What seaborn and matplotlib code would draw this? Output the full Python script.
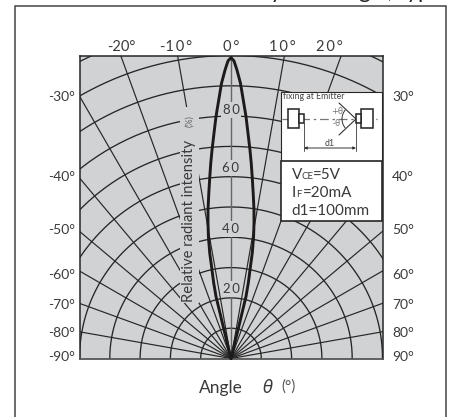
import numpy as np
import pandas as pd
import matplotlib
matplotlib.use('Agg')
import matplotlib.pyplot as plt
from matplotlib.patches import Rectangle, Arc
import seaborn as sb

# Values
half_theta = [0.58, 1.19, 1.97, 2.72, 3.55, 4.31, 5.2, 5.9, 6.65, 7.64, 8.8, 9.63,
              10.5, 11.4, 12.1, 12.9, 13.6, 13.6, 13.7, 13.7, 14]
half_intensity = [98.2, 95.2, 90.9, 85.4, 80, 74.6, 69.1, 64.9, 60.4, 55.1, 49.6, 45.4,
                  40.9, 35.5, 29.9, 25.6, 21, 16.5, 12, 6.3, 0]
theta_deg = [-a for a in half_theta[::-1]] + [0] + half_theta
intensity = half_intensity[::-1] + [99.3] + half_intensity
radii = [10, 20, 30, 40, 50, 60, 70, 80, 90, 100, 110]
spokes = [-80, -70, -60, -50, -40, -30, -20, -10, 10, 20, 30, 40, 50, 60, 70, 80]
side_angles = [30, 40, 50, 60, 70, 80, 90]
side_label_y = [97, 177, 230, 275, 305, 333, 357]
top_labels = ['-20°', '-1\u20090\u2009°', '0\u2009°', '1\u20090\u2009°', '2\u20090\u2009°']
top_label_x = [121, 176, 231, 282, 329]
percent_labels = ['8\u20090', '6\u20090', '4\u20090', '2\u20090']
percent_label_y = [110, 168, 229, 289]

W, H = 449, 417
CX, CY, SCALE = 231, 358.5, 3.03
GRAY = '#d1d2d4'
INK = '#262626'
TEXT = '#3a3a3a'


def dx(x):
    return (x - CX) / SCALE


def dy(y):
    return (CY - y) / SCALE


sb.set_theme(style="white")
plt.rcParams['font.family'] = ['Lato', 'DejaVu Sans']

fig = plt.figure(figsize=(W / 100, H / 100), dpi=100)
ax = fig.add_axes([79.5 / W, (H - CY) / H, 303 / W, 303 / H])
ax.set_xlim(-50, 50)
ax.set_ylim(0, 100)
ax.set_facecolor(GRAY)
ax.set_xticks([])
ax.set_yticks([])
for s in ax.spines.values():
    s.set_color(INK)
    s.set_linewidth(1.1)
ax.spines['bottom'].set_color('#555555')
ax.spines['bottom'].set_linewidth(1.3)

# Polar grid
t = np.radians(np.linspace(-90, 90, 361))
for r in radii:
    ax.plot(r * np.sin(t), r * np.cos(t), color=INK, lw=0.95, zorder=2)
for a in spokes:
    ax.plot([0, 130 * np.sin(np.radians(a))], [0, 130 * np.cos(np.radians(a))], color=INK, lw=0.85, zorder=2)
ax.plot([0, 0], [0, 100], color='#666666', lw=1.0, zorder=2)

# Gap in the grid behind the axis title
ax.add_patch(Rectangle((dx(180), dy(303)), 19 / SCALE, 196 / SCALE, fc=GRAY, ec='none', zorder=3))

# Radiation curve
curve = pd.DataFrame({'theta': theta_deg, 'intensity': intensity})
curve['x'] = curve['intensity'] * np.sin(np.radians(curve['theta']))
curve['y'] = curve['intensity'] * np.cos(np.radians(curve['theta']))
sb.lineplot(data=curve, x='x', y='y', sort=False, estimator=None, color='#1c1a1a', lw=2.1, ax=ax, zorder=4, clip_on=False)
ax.set_xlabel('')
ax.set_ylabel('')

# Angle labels
for lab, x in zip(top_labels, top_label_x):
    ax.text(dx(x), dy(47.5), lab, ha='center', va='center', fontsize=10.5, color=TEXT, clip_on=False)
for a, y in zip(side_angles, side_label_y):
    ax.text(dx(75), dy(y), f'-{a}°', ha='right', va='center', fontsize=10, color=TEXT)
    ax.text(dx(392), dy(y), f'{a}°', ha='left', va='center', fontsize=10, color=TEXT)
for lab, y in zip(percent_labels, percent_label_y):
    ax.text(0, dy(y), lab, ha='center', va='center', fontsize=9.5, color=TEXT, zorder=5,
            bbox=dict(fc=GRAY, ec='none', pad=1.2))

# Axis titles
ax.text(dx(189), dy(302), 'Relative radiant intensity', rotation=90, ha='center', va='bottom',
        fontsize=10.6, color=TEXT, zorder=5)
ax.text(dx(190), dy(121), '(%)', rotation=90, ha='center', va='center', fontsize=6.5, color='#666666', zorder=5)
ax.text(dx(199), dy(388), 'Angle', ha='left', va='center', fontsize=12.5, color=TEXT, clip_on=False)
ax.text(dx(263), dy(388), 'θ', ha='left', va='center', fontsize=12, style='italic', color=TEXT,
        family='DejaVu Sans', clip_on=False)
ax.text(dx(281), dy(387), '(°)', ha='left', va='center', fontsize=11, color='#555555', clip_on=False)

# Measuring setup inset
ax.add_patch(Rectangle((dx(280.7), dy(161)), 101.6 / SCALE, 69.3 / SCALE, fc='white', ec=INK, lw=0.8, zorder=6))
ax.add_patch(Rectangle((dx(280.7), dy(221.5)), 101.6 / SCALE, 60.5 / SCALE, fc='white', ec=INK, lw=1.2, zorder=6))
for x0, x1, y0, y1 in [(287.7, 299, 109, 127.7), (299, 304, 113.7, 123), (361, 372.7, 109, 127.7), (356, 361, 113.7, 123)]:
    ax.add_patch(Rectangle((dx(x0), dy(y1)), (x1 - x0) / SCALE, (y1 - y0) / SCALE, fc='white', ec='#222222', lw=1.1, zorder=8))
ax.plot([dx(282), dx(377)], [dy(119), dy(119)], color='#777777', lw=0.9, ls=(0, (7, 3, 2, 3)), zorder=7)
ax.plot([dx(339), dx(356), dx(339)], [dy(103), dy(119), dy(135)], color='#333333', lw=0.8, zorder=7)
ax.add_patch(Arc((dx(356), dy(119)), 28 / SCALE, 28 / SCALE, theta1=140, theta2=220, color='#333333', lw=0.7, zorder=7))
ax.plot([dx(304), dx(304)], [dy(123), dy(151)], color='#555555', lw=0.7, zorder=7)
ax.plot([dx(356), dx(356)], [dy(123), dy(151)], color='#555555', lw=0.7, zorder=7)
ax.annotate('', xy=(dx(304), dy(148)), xytext=(dx(356), dy(148)), zorder=7,
            arrowprops=dict(arrowstyle='<|-|>', color='#333333', lw=0.7, mutation_scale=4, shrinkA=0, shrinkB=0))
ax.text(dx(283), dy(96.5), 'fixing at Emitter', ha='left', va='center', fontsize=6.3, color='#444444', zorder=8)
ax.text(dx(330), dy(143), 'd1', ha='center', va='center', fontsize=6.3, color='#444444', zorder=8)
ax.text(dx(337), dy(112), '+θ', ha='center', va='center', fontsize=6, color='#777777', zorder=8, family='DejaVu Sans')
ax.text(dx(337), dy(124), '-θ', ha='center', va='center', fontsize=6, color='#777777', zorder=8, family='DejaVu Sans')

# Test conditions
ax.text(dx(291.5), dy(179), 'V', ha='left', va='baseline', fontsize=11, color=TEXT, zorder=8)
ax.text(dx(301), dy(179), 'CE', ha='left', va='baseline', fontsize=7, color=TEXT, zorder=8)
ax.text(dx(312.5), dy(179), '=5V', ha='left', va='baseline', fontsize=11, color=TEXT, zorder=8)
ax.text(dx(291.5), dy(197), 'I', ha='left', va='baseline', fontsize=11, color=TEXT, zorder=8)
ax.text(dx(296), dy(197), 'F', ha='left', va='baseline', fontsize=7, color=TEXT, zorder=8)
ax.text(dx(303), dy(197), '=20mA', ha='left', va='baseline', fontsize=11, color=TEXT, zorder=8)
ax.text(dx(291.5), dy(215), 'd1=100mm', ha='left', va='baseline', fontsize=11, color=TEXT, zorder=8)

# Outer frame, open at the bottom of the crop
fig.add_artist(Rectangle((15 / W, -0.02), 431 / W, (H - 6) / H + 0.02, transform=fig.transFigure,
                         fc='none', ec='#444444', lw=1.1))

# Heading, only its descenders are inside the crop
fig.text(436 / W, (H + 2.5) / H, 'Sensitivity  vs.  Angle, typ.', ha='right', va='baseline', fontsize=16, color='#222222')

plt.savefig('out.png', dpi=100)
